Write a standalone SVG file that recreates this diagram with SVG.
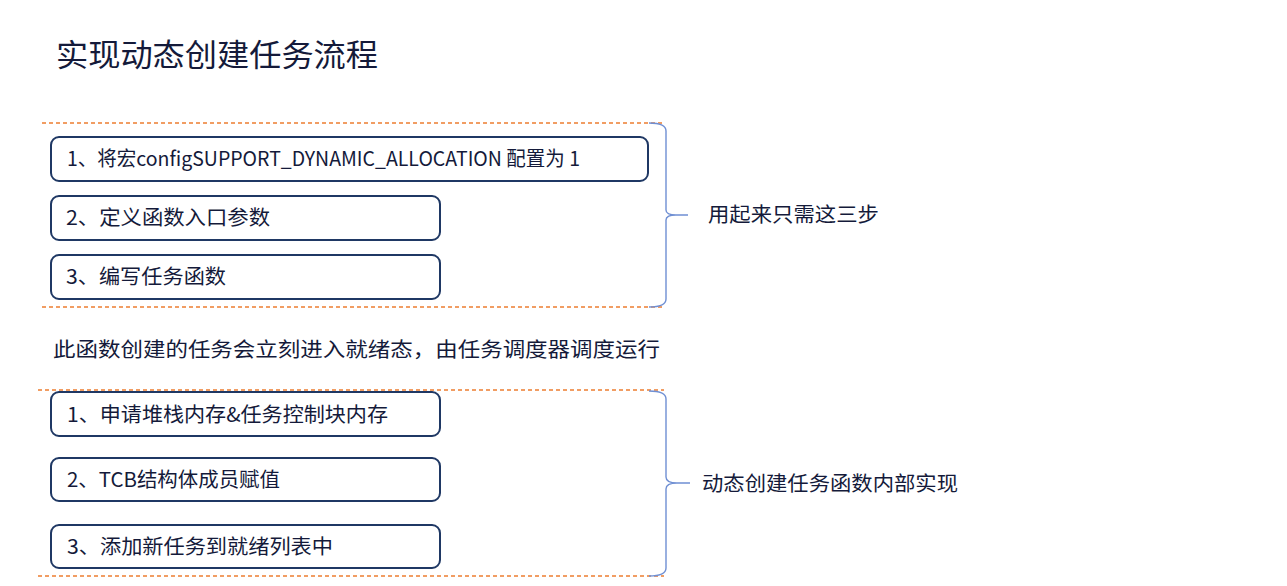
<svg xmlns="http://www.w3.org/2000/svg" width="1287" height="586" viewBox="0 0 1287 586">
<style>
text{font-family:"Noto Sans CJK SC","Noto Sans",sans-serif;fill:#141a3a}
.t{font-size:20px}
.box{fill:#fff;stroke:#1f3864;stroke-width:2}
.dash{stroke:#ed7d31;stroke-width:1.5;stroke-dasharray:4 3;fill:none}
.brace{stroke:#6f8fd3;stroke-width:1.4;fill:none}
</style>
<rect width="1287" height="586" fill="#fff"/>
<g id="title"><text x="56" y="66" font-size="31" textLength="322" lengthAdjust="spacingAndGlyphs">实现动态创建任务流程</text></g>
<g id="connectors">
<line class="dash" x1="42" y1="123" x2="664" y2="123"/>
<line class="dash" x1="42" y1="307" x2="664" y2="307"/>
<line class="dash" x1="38" y1="390" x2="664" y2="390"/>
<line class="dash" x1="38" y1="576" x2="664" y2="576"/>
<path class="brace" d="M649,123 Q666,123 666,131 L666,210 Q666,215 676,215 L688,215 M676,215 Q666,215 666,220 L666,299 Q666,307 649,307"/>
<path class="brace" d="M649,391 Q666,391 666,399 L666,477 Q666,483 677,483 L690,483 M677,483 Q666,483 666,489 L666,568 Q666,576 649,576"/>
</g>
<g id="step1"><rect class="box" x="51" y="137" width="597" height="44" rx="8"/><text class="t" x="67" y="166" textLength="513" lengthAdjust="spacingAndGlyphs">1、将宏configSUPPORT_DYNAMIC_ALLOCATION 配置为 1</text></g>
<g id="step2"><rect class="box" x="51" y="196" width="389" height="44" rx="8"/><text class="t" x="66" y="225" textLength="204" lengthAdjust="spacingAndGlyphs">2、定义函数入口参数</text></g>
<g id="step3"><rect class="box" x="51" y="255" width="389" height="44" rx="8"/><text class="t" x="66" y="284" textLength="160" lengthAdjust="spacingAndGlyphs">3、编写任务函数</text></g>
<g id="label1"><text class="t" x="708" y="222" font-size="21" textLength="171" lengthAdjust="spacingAndGlyphs">用起来只需这三步</text></g>
<g id="note"><text class="t" x="53" y="357" textLength="607" lengthAdjust="spacingAndGlyphs">此函数创建的任务会立刻进入就绪态，由任务调度器调度运行</text></g>
<g id="impl1"><rect class="box" x="51" y="392" width="389" height="44" rx="8"/><text class="t" x="67" y="422" textLength="321" lengthAdjust="spacingAndGlyphs">1、申请堆栈内存&amp;任务控制块内存</text></g>
<g id="impl2"><rect class="box" x="51" y="458" width="389" height="43" rx="8"/><text class="t" x="67" y="487" textLength="213" lengthAdjust="spacingAndGlyphs">2、TCB结构体成员赋值</text></g>
<g id="impl3"><rect class="box" x="51" y="525" width="389" height="43" rx="8"/><text class="t" x="67" y="554" textLength="266" lengthAdjust="spacingAndGlyphs">3、添加新任务到就绪列表中</text></g>
<g id="label2"><text class="t" x="702" y="491" font-size="21" textLength="256" lengthAdjust="spacingAndGlyphs">动态创建任务函数内部实现</text></g>
</svg>
